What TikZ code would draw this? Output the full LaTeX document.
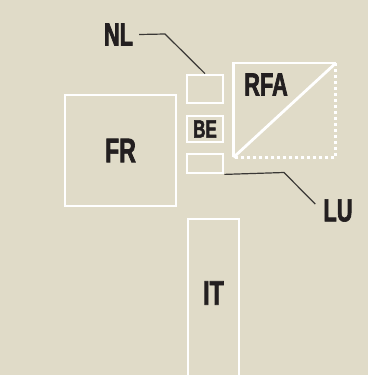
\documentclass[tikz,border=0pt]{standalone}
\usepackage{fontspec}
\newfontfamily\lblfont[FakeStretch=0.68,FakeBold=2]{Liberation Sans Bold}
\definecolor{bg}{HTML}{E0DBC8}
\definecolor{ink}{HTML}{231F20}
\definecolor{lead}{HTML}{3A3836}
\begin{document}
\begin{tikzpicture}[x=1pt,y=-1pt,
  box/.style={draw=white,line width=2.8pt,inner sep=0pt,font=\lblfont\fontsize{32}{32}\selectfont,text=ink},
  lbl/.style={inner sep=0pt,font=\lblfont\fontsize{32}{32}\selectfont,text=ink},
  big/.style={font=\lblfont\fontsize{34}{34}\selectfont},
  leader/.style={draw=lead,line width=1.2pt}]
\fill[bg] (0,0) rectangle (368,375);
\useasboundingbox (0,0) rectangle (368,375);
\node[box,big,minimum width=111pt,minimum height=111pt] (fr) at (120.5,150.5) {FR};
\node[box,minimum width=36pt,minimum height=28pt] (nlbox) at (205,89) {};
\node[box,minimum width=36pt,minimum height=26pt,font=\lblfont\fontsize{25}{25}\selectfont] (be) at (205,129) {BE};
\node[box,minimum width=36pt,minimum height=19pt] (lubox) at (205,163.5) {};
\begin{scope}
\clip (0,0) rectangle (368,375);
\node[box,minimum width=51pt,minimum height=170pt,anchor=north west] (it) at (186.5,217.5) {};
\end{scope}
\node[lbl,big] (itl) at (213.5,293) {IT};
\node[inner sep=0pt,minimum width=102pt,minimum height=94pt,anchor=north west] (rfa) at (233.5,63) {};
\draw[white,line width=2.8pt] (rfa.south west) -- (rfa.north west) -- (rfa.north east);
\draw[white,line width=2.8pt] (rfa.south west) -- (rfa.north east);
\draw[white,line width=3pt,dash pattern=on 3pt off 3pt] (rfa.north east) -- (rfa.south east) -- (rfa.south west);
\node[lbl] (rfal) at (266,84.5) {RFA};
\node[lbl] (nl) at (118.5,34.5) {NL};
\node[lbl] (lu) at (338,210.5) {LU};
\coordinate (nlk) at (165,34);
\coordinate (luk) at (284,172.5);
\draw[leader] ([xshift=6pt]nl.east) -- (nlk) -- (nlbox.north);
\draw[leader] (lubox.south east) -- (luk) -- ([xshift=-8pt,yshift=-5pt]lu.north west);
\end{tikzpicture}
\end{document}
